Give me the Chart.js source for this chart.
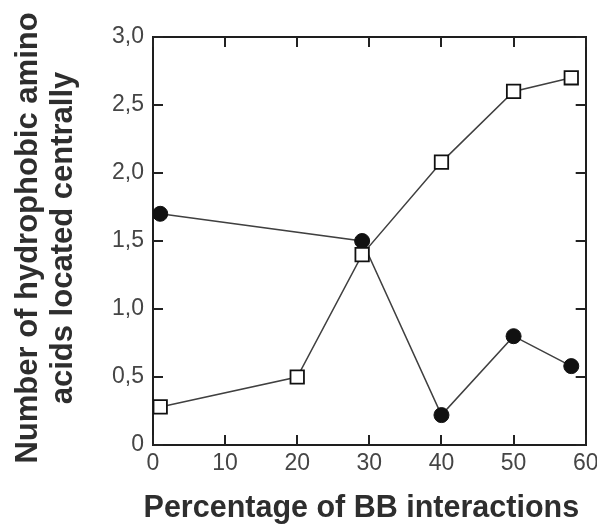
<!DOCTYPE html>
<html><head><meta charset="utf-8">
<script src="https://cdn.jsdelivr.net/npm/chart.js@4.4.0/dist/chart.umd.min.js"></script>
<style>html,body{margin:0;padding:0;background:#fff}#wrap{width:597px;height:527px;position:relative}</style>
</head><body><div id="wrap"><canvas id="c" width="597" height="527"></canvas></div>
<script>
const filledX = [1, 29, 40, 50, 58];
const filledY = [1.7, 1.5, 0.22, 0.8, 0.58];
const openX = [1, 20, 29, 40, 50, 58];
const openY = [0.28, 0.5, 1.4, 2.08, 2.6, 2.7];
const xTicks = [0, 10, 20, 30, 40, 50, 60];
const yTicks = [0, 0.5, 1.0, 1.5, 2.0, 2.5, 3.0];
const xTitle = 'Percentage of BB interactions';
const yTitle = ['Number of hydrophobic amino', 'acids located centrally'];

const FONT = '"Liberation Sans", Arial, Helvetica, sans-serif';
const toPts = (xs, ys) => xs.map((x, i) => ({x: x, y: ys[i]}));
const fmtY = v => v === 0 ? '0' : v.toFixed(1).replace('.', ',');

const gridOpts = {display: false, drawOnChartArea: false, drawTicks: false};
const borderOpts = {display: true, color: '#1e1e1e', width: 2};

const decoPlugin = {
  id: 'deco',
  afterDraw(chart) {
    const ctx = chart.ctx, a = chart.chartArea;
    const sx = chart.scales.x, sy = chart.scales.y;
    const TL = 10;
    ctx.save();
    ctx.fillStyle = '#222222';
    xTicks.forEach(v => {
      const px = Math.round(sx.getPixelForValue(v));
      ctx.fillRect(px - 1, a.bottom - TL, 2, TL);
      ctx.fillRect(px - 1, a.top, 2, TL);
    });
    yTicks.forEach(v => {
      const py = Math.round(sy.getPixelForValue(v));
      ctx.fillRect(a.left, py - 1, TL, 2);
      ctx.fillRect(a.right - TL, py - 1, TL, 2);
    });

    ctx.fillStyle = '#2e2e2e';
    ctx.font = 'bold 30.5px ' + FONT;
    ctx.textAlign = 'center';
    ctx.textBaseline = 'alphabetic';
    ctx.fillText(xTitle, (a.left + a.right) / 2 - 8, a.bottom + 72);
    ctx.font = 'bold 31px ' + FONT;
    const cy = (a.top + a.bottom) / 2 - 3;
    const baseX = [37, 72];
    yTitle.forEach((line, i) => {
      ctx.save();
      ctx.translate(baseX[i], cy);
      ctx.rotate(-Math.PI / 2);
      ctx.fillText(line, 0, 0);
      ctx.restore();
    });
    ctx.restore();
  }
};

new Chart(document.getElementById('c'), {
  type: 'line',
  data: {
    datasets: [
      {
        label: 'open',
        data: toPts(openX, openY),
        borderColor: '#404040',
        borderWidth: 1.5,
        pointStyle: 'rect',
        pointRadius: 9.5,
        pointBackgroundColor: '#ffffff',
        pointBorderColor: '#111111',
        pointBorderWidth: 1.8,
        tension: 0,
        order: 0
      },
      {
        label: 'filled',
        data: toPts(filledX, filledY),
        borderColor: '#404040',
        borderWidth: 1.5,
        pointStyle: 'circle',
        pointRadius: 7.5,
        pointBackgroundColor: '#111111',
        pointBorderColor: '#111111',
        pointBorderWidth: 1,
        tension: 0,
        order: 1
      }
    ]
  },
  options: {
    responsive: false,
    animation: false,
    devicePixelRatio: 1,
    layout: {padding: {left: 0, top: 37, right: 10, bottom: 0}},
    plugins: {legend: {display: false}, tooltip: {enabled: false}},
    scales: {
      x: {
        type: 'linear', position: 'bottom', min: 0, max: 60,
        afterBuildTicks: s => { s.ticks = xTicks.map(v => ({value: v})); },
        afterFit: s => { s.height = 82; s.paddingLeft = 0; s.paddingRight = 0; },
        ticks: {color: '#454545', font: {family: FONT, size: 23}, padding: 5, maxRotation: 0, autoSkip: false, callback: v => String(v)},
        grid: gridOpts, border: borderOpts
      },
      x2: {
        type: 'linear', position: 'top', min: 0, max: 60,
        afterFit: s => { s.height = 0; s.paddingLeft = 0; s.paddingRight = 0; },
        ticks: {display: false},
        grid: gridOpts, border: borderOpts
      },
      y: {
        type: 'linear', position: 'left', min: 0, max: 3,
        afterBuildTicks: s => { s.ticks = yTicks.map(v => ({value: v})); },
        afterFit: s => { s.width = 153; s.paddingTop = 0; s.paddingBottom = 0; },
        ticks: {color: '#454545', font: {family: FONT, size: 23}, padding: 9, callback: v => fmtY(v)},
        grid: gridOpts, border: borderOpts
      },
      y2: {
        type: 'linear', position: 'right', min: 0, max: 3,
        afterFit: s => { s.width = 0; s.paddingTop = 0; s.paddingBottom = 0; },
        ticks: {display: false},
        grid: gridOpts, border: borderOpts
      }
    }
  },
  plugins: [decoPlugin]
});
</script>
</body></html>
